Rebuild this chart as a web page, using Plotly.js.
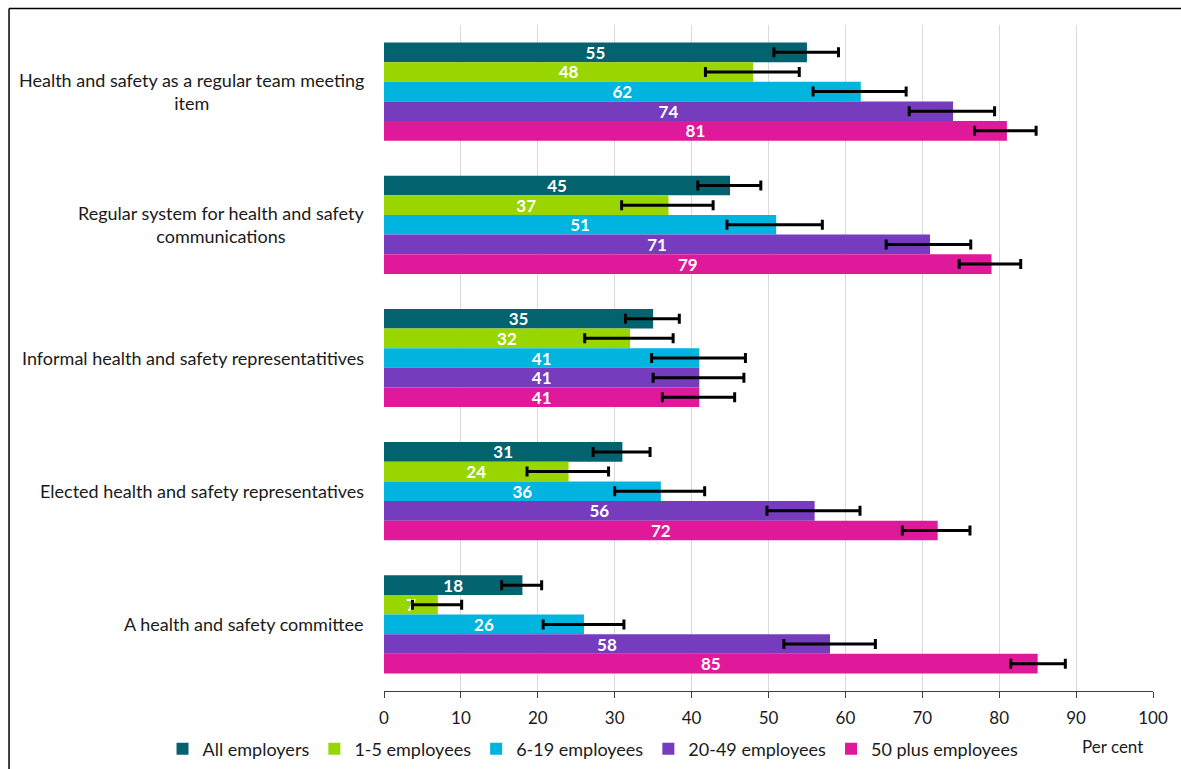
<!DOCTYPE html>
<html>
<head>
<meta charset="utf-8">
<script src="https://cdn.plot.ly/plotly-3.0.1.min.js"></script>
<style>
html,body{margin:0;padding:0;background:#fff;}
#chart{width:1181px;height:769px;}
</style>
</head>
<body>
<div id="chart"></div>
<script>
// Categories (top to bottom)
const categories = [
  'Health and safety as a regular team meeting item',
  'Regular system for health and safety communications',
  'Informal health and safety representatitives',
  'Elected health and safety representatives',
  'A health and safety committee'
];
const categoryLabels = [
  'Health and safety as a regular team meeting<br>item',
  'Regular system for health and safety<br>communications',
  'Informal health and safety representatitives',
  'Elected health and safety representatives',
  'A health and safety committee'
];
const seriesNames = ['All employers', '1-5 employees', '6-19 employees', '20-49 employees', '50 plus employees'];
const seriesColors = ['#02636f', '#99d600', '#00b4e0', '#753cbd', '#e0199a'];

// Values per series (per category, top to bottom)
const allEmployers = [55, 45, 35, 31, 18];
const emp1to5      = [48, 37, 32, 24, 7];
const emp6to19     = [62, 51, 41, 36, 26];
const emp20to49    = [74, 71, 41, 56, 58];
const emp50plus    = [81, 79, 41, 72, 85];

// Confidence interval bounds (lower, upper)
const allEmployersLow = [50.7, 40.8, 31.4, 27.2, 15.3];
const allEmployersHigh = [59.1, 49.0, 38.4, 34.6, 20.5];
const emp1to5Low  = [41.8, 30.9, 26.1, 18.6, 3.7];
const emp1to5High = [54.0, 42.8, 37.6, 29.2, 10.1];
const emp6to19Low  = [55.8, 44.6, 34.8, 30.0, 20.7];
const emp6to19High = [67.9, 57.0, 47.0, 41.7, 31.2];
const emp20to49Low  = [68.3, 65.3, 35.0, 49.8, 52.0];
const emp20to49High = [79.4, 76.3, 46.8, 61.9, 63.9];
const emp50plusLow  = [76.8, 74.8, 36.2, 67.4, 81.5];
const emp50plusHigh = [84.8, 82.8, 45.6, 76.2, 88.6];

const xTickVals = [0,10,20,30,40,50,60,70,80,90,100];

const seriesValues = [allEmployers, emp1to5, emp6to19, emp20to49, emp50plus];
const seriesLow = [allEmployersLow, emp1to5Low, emp6to19Low, emp20to49Low, emp50plusLow];
const seriesHigh = [allEmployersHigh, emp1to5High, emp6to19High, emp20to49High, emp50plusHigh];

const FONT = 'Lato, "Open Sans", sans-serif';
const TXT = '#1a1a1a';

const traces = seriesNames.map((name, i) => ({
  type: 'bar',
  orientation: 'h',
  name: name,
  y: categories,
  x: seriesValues[i],
  text: seriesValues[i].map(String),
  textposition: 'inside',
  insidetextanchor: 'middle',
  constraintext: 'none',
  textangle: 0,
  textfont: {color: '#ffffff', size: 17, family: FONT, weight: 'bold'},
  marker: {color: seriesColors[i], line: {width: 0}},
  error_x: {
    type: 'data',
    symmetric: false,
    array: seriesHigh[i].map((h, k) => h - seriesValues[i][k]),
    arrayminus: seriesValues[i].map((v, k) => v - seriesLow[i][k]),
    color: '#000000',
    thickness: 3,
    width: 5
  },
  cliponaxis: false,
  hoverinfo: 'x+name'
}));

const annotations = categories.map((c, i) => ({
  xref: 'paper', yref: 'y',
  x: -0.0234, y: c,
  xanchor: 'right', yanchor: 'middle',
  align: 'center',
  text: categoryLabels[i],
  showarrow: false,
  font: {family: FONT, size: 18, color: TXT}
}));
annotations.push({
  xref: 'paper', yref: 'paper',
  x: 0.947, y: -0.084,
  xanchor: 'center', yanchor: 'middle',
  text: 'Per cent',
  showarrow: false,
  font: {family: FONT, size: 17, color: TXT}
});

const layout = {
  width: 1181,
  height: 769,
  margin: {l: 384, r: 28, t: 25, b: 78, pad: 0, autoexpand: false},
  paper_bgcolor: '#ffffff',
  plot_bgcolor: '#ffffff',
  barmode: 'group',
  bargap: 0.263,
  bargroupgap: 0,
  font: {family: FONT, size: 17, color: TXT},
  showlegend: true,
  legend: {
    orientation: 'h',
    x: -0.288, xanchor: 'left',
    y: -0.087, yanchor: 'middle',
    traceorder: 'normal',
    itemwidth: 30,
    font: {family: FONT, size: 18, color: TXT},
    bgcolor: 'rgba(0,0,0,0)'
  },
  xaxis: {
    range: [0, 100],
    tickvals: xTickVals,
    ticktext: xTickVals.map(String),
    showgrid: true,
    gridcolor: '#d9d9d9',
    gridwidth: 1,
    zeroline: false,
    showline: true,
    linecolor: '#404040',
    linewidth: 1,
    ticks: 'outside',
    ticklen: 6,
    tickcolor: '#404040',
    tickfont: {family: FONT, size: 17, color: TXT},
    ticklabelstandoff: 6,
    fixedrange: true
  },
  yaxis: {
    type: 'category',
    categoryorder: 'array',
    categoryarray: categories,
    autorange: 'reversed',
    showticklabels: false,
    showgrid: false,
    zeroline: false,
    showline: false,
    ticks: '',
    fixedrange: true
  },
  annotations: annotations,
  shapes: [
    {type: 'line', xref: 'paper', yref: 'paper', x0: -0.4876, x1: 1.04, y0: 1.0248, y1: 1.0248,
     line: {color: '#000000', width: 1.5}},
    {type: 'line', xref: 'paper', yref: 'paper', x0: -0.4876, x1: -0.4876, y0: 1.0248, y1: -0.15,
     line: {color: '#000000', width: 1.5}}
  ]
};

Plotly.newPlot('chart', traces, layout, {displayModeBar: false, staticPlot: true});
</script>
</body>
</html>
